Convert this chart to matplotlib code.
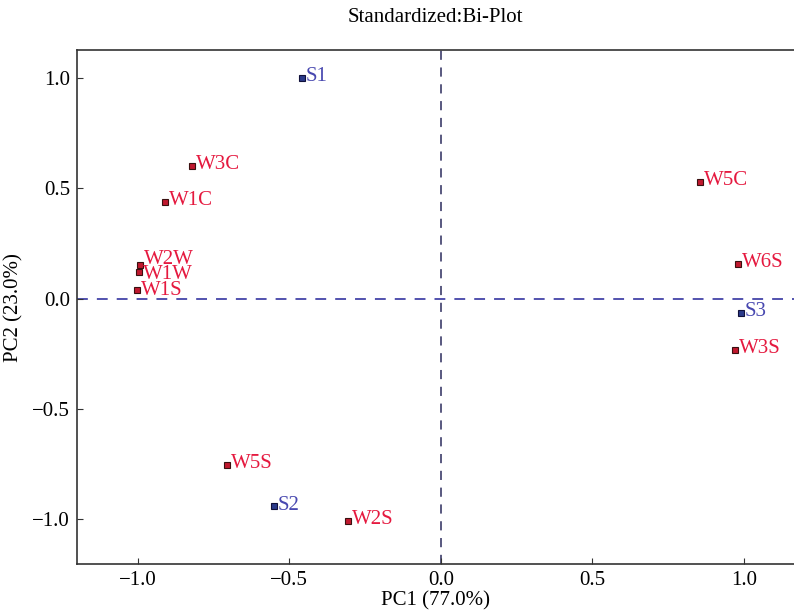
import matplotlib.pyplot as plt

plt.rcParams["font.family"] = ["Liberation Serif", "DejaVu Serif"]
plt.rcParams["axes.unicode_minus"] = True

# variables (red) and samples (blue)
var_names = ["W3C", "W1C", "W2W", "W1W", "W1S", "W5C", "W6S", "W3S", "W5S", "W2S"]
var_x = [-0.822, -0.911, -0.993, -0.997, -1.003, 0.855, 0.980, 0.970, -0.706, -0.307]
var_y = [0.603, 0.440, 0.154, 0.122, 0.041, 0.531, 0.159, -0.231, -0.753, -1.007]

sample_names = ["S1", "S2", "S3"]
sample_x = [-0.459, -0.551, 0.990]
sample_y = [1.000, -0.943, -0.063]

red = "#e5193f"
blue = "#4848b0"

# label nudges (points) so the crowded labels sit like the original
nudge = {"W2W": 3, "W1W": -3, "W1S": -2}

fig = plt.figure(figsize=(7.94, 6.13), dpi=100)
ax = fig.add_axes([0.097, 0.080, 0.903, 0.838])

ax.axvline(0, color="#2b2b5c", linestyle=(0, (6, 5)), linewidth=1.1, zorder=1)
ax.axhline(0, color="#4444a8", linestyle=(0, (6, 5)), linewidth=1.3, zorder=1)

ax.plot(var_x, var_y, "s", markersize=3.8, markerfacecolor="#c0182e",
        markeredgecolor="#3a1010", markeredgewidth=0.8, linestyle="none", zorder=3)
ax.plot(sample_x, sample_y, "s", markersize=3.8, markerfacecolor="#2a3a8a",
        markeredgecolor="#10103a", markeredgewidth=0.8, linestyle="none", zorder=3)

for name, x, y in zip(var_names, var_x, var_y):
    ax.annotate(name, (x, y), xytext=(3, 1 + nudge.get(name, 0)),
                textcoords="offset points", color=red, fontsize=15,
                va="center", ha="left")
for name, x, y in zip(sample_names, sample_x, sample_y):
    ax.annotate(name, (x, y), xytext=(3, 1), textcoords="offset points",
                color=blue, fontsize=15, va="center", ha="left")

ax.set_xlim(-1.2, 1.165)
ax.set_ylim(-1.204, 1.127)
ax.set_xticks([-1.0, -0.5, 0.0, 0.5, 1.0])
ax.set_yticks([-1.0, -0.5, 0.0, 0.5, 1.0])
ax.tick_params(direction="in", length=4, labelsize=15, color="#333333", pad=5)
ax.set_xlabel("PC1 (77.0%)", fontsize=15, labelpad=1)
ax.set_ylabel("PC2 (23.0%)", fontsize=15, labelpad=6)
ax.set_title("Standardized:Bi-Plot", fontsize=15, pad=20)
for s in ax.spines.values():
    s.set_color("#333333")
    s.set_linewidth(1.2)
ax.spines["right"].set_visible(False)

fig.savefig("out.png", dpi=100)
